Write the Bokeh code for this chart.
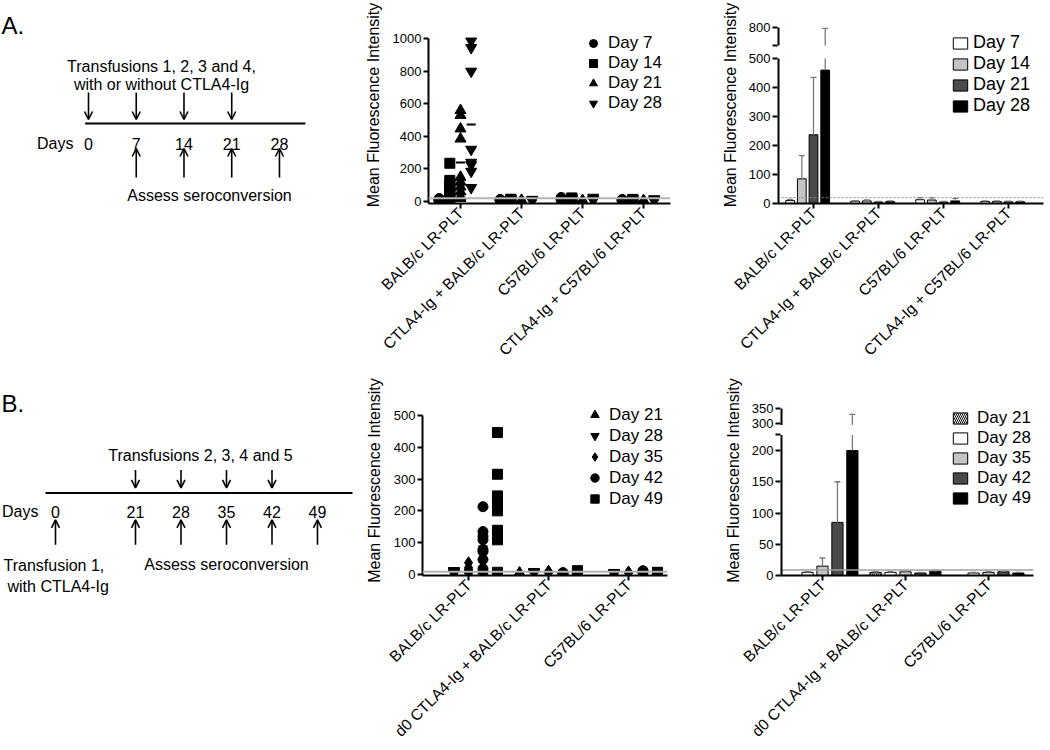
import math
import numpy as np
from bokeh.plotting import figure
from bokeh.layouts import row, column
from bokeh.models import (Range1d, FixedTicker, Span, Arrow, OpenHead, Legend,
                          LegendItem, Label, Title)
from bokeh.embed import file_html
from bokeh.resources import INLINE

FONT = "Liberation Sans"

# ============================ DATA ============================
# ---- Panel A: timeline (days) ----
a_transfusion_days = [0, 7, 14, 21]
a_assess_days = [7, 14, 21, 28]
a_axis_days = [0, 7, 14, 21, 28]

# ---- Panel A: MFI per mouse, per group ----
a_groups = ["BALB/c LR-PLT", "CTLA4-Ig + BALB/c LR-PLT", "C57BL/6 LR-PLT",
            "CTLA4-Ig + C57BL/6 LR-PLT"]
a_day_labels = ["Day 7", "Day 14", "Day 21", "Day 28"]
a_mfi_day7 = [[5, 8, 10, 12, 15, 18, 10, 6], [8, 10, 12, 6], [15, 20, 25, 10], [6, 8, 10, 12]]
a_mfi_day14 = [[235, 130, 112, 92, 72, 52, 32, 15], [10, 12, 14, 8], [12, 18, 22, 8], [7, 9, 11, 13]]
a_mfi_day21 = [[560, 530, 447, 385, 150, 120, 90, 60, 30, 20], [4, 6, 8, 3], [3, 5, 6, 4], [3, 4, 5, 6]]
a_mfi_day28 = [[985, 945, 800, 320, 240, 225, 185, 85], [6, 8, 12, 5], [10, 15, 25, 6], [5, 7, 9, 16]]

# ---- Panel A: bar means and SD ----
a_mean_day7 = [10, 8, 13, 7]
a_sd_day7 = [4, 2, 7, 2]
a_mean_day14 = [85, 9, 12, 7]
a_sd_day14 = [80, 3, 8, 2]
a_mean_day21 = [237, 5, 5, 6]
a_sd_day21 = [198, 2, 2, 2]
a_mean_day28 = [460, 7, 9, 6]
a_sd_day28 = [335, 2, 9, 2]
a_cutoff = 20

# ---- Panel B: timeline (days) ----
b_first_transfusion_day = 0
b_transfusion_days = [21, 28, 35, 42]
b_assess_days = [21, 28, 35, 42, 49]
b_axis_days = [0, 21, 28, 35, 42, 49]

# ---- Panel B: MFI per mouse, per group ----
b_groups = ["BALB/c LR-PLT", "d0 CTLA4-Ig + BALB/c LR-PLT", "C57BL/6 LR-PLT"]
b_day_labels = ["Day 21", "Day 28", "Day 35", "Day 42", "Day 49"]
b_mfi_day21 = [[], [3, 5, 4], []]
b_mfi_day28 = [[3, 5, 8, 10, 12], [5, 7, 9], [4, 6, 3]]
b_mfi_day35 = [[37, 22, 15, 10, 7, 4], [5, 8, 10], [5, 8, 6]]
b_mfi_day42 = [[213, 135, 120, 109, 78, 72, 47, 18, 8], [4, 6, 3], [6, 10, 12]]
b_mfi_day49 = [[446, 315, 247, 229, 200, 139, 109, 7], [8, 10, 12], [4, 6, 7]]

# ---- Panel B: bar means and SD ----
b_mean_day21 = [None, 5, None]
b_sd_day21 = [None, 1, None]
b_mean_day28 = [5, 5, 4]
b_sd_day28 = [1, 1, 1]
b_mean_day35 = [15, 6, 5]
b_sd_day35 = [13, 1, 1]
b_mean_day42 = [85, 4, 6]
b_sd_day42 = [65, 1, 1]
b_mean_day49 = [200, 7, 4]
b_sd_day49 = [130, 1, 1]
b_cutoff = 9

# ============================ HELPERS ============================
BLACK = "black"
ERR = "#7a7a7a"


def timeline_fig(w, h, bt, bb, y_top, y_bottom):
    p = figure(width=w, height=h, x_range=Range1d(0, w), y_range=Range1d(y_bottom, y_top),
               x_axis_location=None, y_axis_location=None, output_backend="svg",
               toolbar_location=None, min_border_left=0, min_border_right=0,
               min_border_top=bt, min_border_bottom=bb)
    p.grid.visible = False
    p.outline_line_color = None
    return p


def add_text(p, x, y, text, size="16px", align="center"):
    p.add_layout(Label(x=x, y=y, text=text, text_font=FONT, text_font_size=size,
                       text_align=align, text_baseline="alphabetic", text_color=BLACK))


def add_arrow(p, x, y0, y1):
    p.add_layout(Arrow(end=OpenHead(size=8, line_width=1.6, line_color=BLACK),
                       x_start=x, y_start=y0, x_end=x, y_end=y1,
                       line_width=1.6, line_color=BLACK))


def data_fig(w, h, bl, br, bt, bb, xr, yr):
    p = figure(width=w, height=h, x_range=Range1d(*xr), y_range=Range1d(*yr),
               output_backend="svg", toolbar_location=None,
               min_border_left=bl, min_border_right=br, min_border_top=bt,
               min_border_bottom=bb)
    p.grid.visible = False
    p.outline_line_color = None
    p.background_fill_color = "white"
    return p


def style_axes(p, groups, yticks, ylabels=None, label_standoff=8):
    xa = p.xaxis[0]
    xa.ticker = FixedTicker(ticks=list(range(len(groups))))
    xa.major_label_overrides = {i: g for i, g in enumerate(groups)}
    xa.major_label_orientation = math.pi / 4
    xa.major_label_text_font = FONT
    xa.major_label_text_font_size = "15.5px"
    xa.major_label_text_color = BLACK
    xa.major_label_standoff = 2
    xa.axis_line_width = 2
    xa.major_tick_line_width = 2
    xa.major_tick_out = 5
    xa.major_tick_in = 0
    xa.minor_tick_line_color = None

    ya = p.yaxis[0]
    ya.ticker = FixedTicker(ticks=yticks)
    if ylabels is not None:
        ya.major_label_overrides = dict(zip(yticks, ylabels))
    ya.major_label_text_font = FONT
    ya.major_label_text_font_size = "13px"
    ya.major_label_text_color = BLACK
    ya.major_label_standoff = 2
    ya.axis_line_width = 2
    ya.major_tick_line_width = 2
    ya.major_tick_out = 5
    ya.major_tick_in = 0
    ya.minor_tick_line_color = None
    ya.axis_label = "Mean Fluorescence Intensity"
    ya.axis_label_text_font = FONT
    ya.axis_label_text_font_size = "16px"
    ya.axis_label_text_font_style = "normal"
    ya.axis_label_text_color = BLACK
    ya.axis_label_standoff = label_standoff


def fold(v, brk):
    """Broken-axis scale: lower part linear, gap, compressed upper part."""
    if brk is None:
        return v
    lo_top, gap, up_bot, k = brk
    if v <= lo_top:
        return v
    if v >= up_bot:
        return round(lo_top + gap + (v - up_bot) * k, 6)
    return lo_top + gap * (v - lo_top) / (up_bot - lo_top)


def scatter_panel(p, values_by_day, day_labels, markers, sizes, step, legend_loc, glyph, standoff):
    items = []
    for i, (lab, vals, mk, sz) in enumerate(zip(day_labels, values_by_day, markers, sizes)):
        xs, ys, mx, my = [], [], [], []
        for g, v in enumerate(vals):
            if not v:
                continue
            xpos = g + (i - 2) * step
            xs += [xpos] * len(v)
            ys += list(v)
            mx.append(xpos)
            my.append(float(np.mean(v)))
        r = p.scatter(xs, ys, marker=mk, size=sz, fill_color=BLACK, line_color=BLACK)
        p.scatter(mx, my, marker="dash", size=9, line_width=2, line_color=BLACK)
        items.append(LegendItem(label=lab, renderers=[r]))
    leg = Legend(items=items, location=legend_loc, glyph_width=glyph, glyph_height=glyph,
                 spacing=0, padding=0, margin=0, label_standoff=standoff,
                 label_text_font=FONT, label_text_font_size="17px",
                 label_text_color=BLACK, background_fill_alpha=0,
                 border_line_color=None)
    p.add_layout(leg)


def bar_panel(p, means, sds, day_labels, fills, hatches, step, width, brk,
              legend_loc, standoff, font_size):
    items = []
    ex0, ey0, ex1, ey1, cx, cy = [], [], [], [], [], []
    for i, (lab, mu, sd, fc, ht) in enumerate(zip(day_labels, means, sds, fills, hatches)):
        xs, tops = [], []
        for g, (m, s) in enumerate(zip(mu, sd)):
            if m is None:
                continue
            xpos = g + (i - 2) * step
            xs.append(xpos)
            tops.append(fold(m, brk))
            top = m + s
            if brk is None or top <= brk[0]:
                ex0.append(xpos); ey0.append(fold(m, brk)); ex1.append(xpos); ey1.append(fold(top, brk))
            else:
                ex0.append(xpos); ey0.append(fold(m, brk)); ex1.append(xpos); ey1.append(brk[0])
                if top > brk[2]:
                    ex0.append(xpos); ey0.append(fold(brk[2], brk)); ex1.append(xpos); ey1.append(fold(top, brk))
            cx.append(xpos)
            cy.append(fold(top, brk))
        kw = {}
        if ht:
            kw = dict(hatch_pattern=ht, hatch_scale=4, hatch_weight=1, hatch_color=BLACK)
        r = p.vbar(x=xs, top=tops, bottom=0, width=width, fill_color=fc,
                   line_color=BLACK, line_width=1, **kw)
        items.append(LegendItem(label=lab, renderers=[r]))
    p.segment(x0=ex0, y0=ey0, x1=ex1, y1=ey1, line_color=ERR, line_width=1.3)
    p.scatter(cx, cy, marker="dash", size=6, line_color=ERR, line_width=1.3)
    leg = Legend(items=items, location=legend_loc, glyph_width=18, glyph_height=14,
                 spacing=0, padding=0, margin=0, label_standoff=standoff,
                 label_text_font=FONT, label_text_font_size=font_size,
                 label_text_color=BLACK, background_fill_alpha=0,
                 border_line_color=None)
    p.add_layout(leg)


def broken_axis_lines(p, x, pieces):
    for y0, y1 in pieces:
        p.add_layout(Arrow(end=None, x_start=x, y_start=y0, x_end=x, y_end=y1,
                           line_width=4, line_color=BLACK))


# Row geometry (page pixels): frames of one row share top and bottom
TOP_BT, TOP_BB, TOP_H = 6, 172, 375       # frame y 6..203
BOT_BT, BOT_BB, BOT_H = 10, 172, 373      # frame y 385..576 (row starts at 375)

# ============================ PANEL A ============================
tA = timeline_fig(360, TOP_H, TOP_BT, TOP_BB, 6, 203)


def xa(d):
    return 88 + 6.82 * d


add_text(tA, 1, 25, "A.", size="24px", align="left")
add_text(tA, 161, 66, "Transfusions 1, 2, 3 and 4,")
add_text(tA, 161, 84, "with or without CTLA4-Ig")
for d in a_transfusion_days:
    add_arrow(tA, xa(d), 92, 119)
tA.line([xa(-0.5), xa(31.8)], [123, 123], line_width=2, line_color=BLACK)
add_text(tA, 73, 143, "Days", align="right")
for d in a_axis_days:
    add_text(tA, xa(d), 143, str(d))
for d in a_assess_days:
    add_arrow(tA, xa(d), 177, 148)
add_text(tA, 209, 195, "Assess seroconversion")

# Scatter A: frame 428..670 x 6..203
sA = data_fig(330, TOP_H, 68, 20, TOP_BT, TOP_BB, (-0.5246, 3.442), (-12.3, 1198.5))
style_axes(sA, a_groups, [0, 200, 400, 600, 800, 1000], label_standoff=8)
sA.yaxis[0].bounds = (-12.3, 1000)
sA.add_layout(Span(location=a_cutoff, dimension="width", line_color="#b5b5b5", line_width=2))
scatter_panel(sA, [a_mfi_day7, a_mfi_day14, a_mfi_day21, a_mfi_day28], a_day_labels,
              ["circle", "square", "triangle", "inverted_triangle"], [10, 10, 11, 11],
              0.175, (155, 90), 20, 5)

# Bars A (broken axis: 0-500 | gap | 700-800 compressed): frame 777..1043
brkA = (500, 45, 700, 0.62)
bA = data_fig(360, TOP_H, 87, 7, TOP_BT, TOP_BB, (-0.554, 3.538), (0, 679.4))
yticksA = [0, 100, 200, 300, 400, 500, fold(700, brkA), fold(800, brkA)]
ylabelsA = ["0", "100", "200", "300", "400", "500", "", "800"]
style_axes(bA, a_groups, yticksA, ylabelsA, label_standoff=7)
bA.yaxis[0].axis_line_color = None
bA.add_layout(Span(location=a_cutoff, dimension="width", line_color="#8c8c8c",
                   line_width=1, line_dash="2 2"))
bar_panel(bA, [a_mean_day7, a_mean_day14, a_mean_day21, a_mean_day28],
          [a_sd_day7, a_sd_day14, a_sd_day21, a_sd_day28], a_day_labels,
          ["white", "#c4c4c4", "#4a4a4a", "black"], [None, None, None, None],
          0.18, 0.135, brkA, (174, 87), 4, "18px")
broken_axis_lines(bA, -0.554, [(0, 500), (fold(700, brkA), fold(800, brkA))])

# ============================ PANEL B ============================
tB = timeline_fig(354, BOT_H, BOT_BT, BOT_BB, 385, 576)


def xb(d):
    if d <= 21:
        return 55 + d * 80 / 21
    return 135 + (d - 21) * 6.5


add_text(tB, 1, 403, "B.", size="24px", align="left")
add_text(tB, 200, 455, "Transfusions 2, 3, 4 and 5")
for d in b_transfusion_days:
    add_arrow(tB, xb(d), 470, 488)
tB.line([45, 352], [493, 493], line_width=2, line_color=BLACK)
add_text(tB, 38, 512, "Days", align="right")
for d in b_axis_days:
    add_text(tB, xb(d), 512, str(d))
for d in [b_first_transfusion_day] + b_assess_days:
    add_arrow(tB, xb(d), 545, 520)
add_text(tB, 3, 566, "Transfusion 1,", align="left")
tB.add_layout(Title(text="with CTLA4-Ig", align="left", offset=7, standoff=0,
                    text_font=FONT, text_font_size="16px", text_font_style="normal",
                    text_color=BLACK), "below")
add_text(tB, 226, 565, "Assess seroconversion")

# Scatter B: frame 422..667 x 385..576
sB = data_fig(339, BOT_H, 68, 26, BOT_BT, BOT_BB, (-0.575, 2.4875), (-3.1, 593.75))
style_axes(sB, b_groups, [0, 100, 200, 300, 400, 500], label_standoff=8)
sB.yaxis[0].bounds = (-3.1, 500)
sB.add_layout(Span(location=b_cutoff, dimension="width", line_color="#b5b5b5", line_width=2))
scatter_panel(sB, [b_mfi_day21, b_mfi_day28, b_mfi_day35, b_mfi_day42, b_mfi_day49], b_day_labels,
              ["triangle", "inverted_triangle", "diamond", "circle", "square"], [11, 11, 12, 10, 10],
              0.181, (162, 66), 21, 4)

# Bars B (broken axis: 0-225 | gap | 295-350 compressed): frame 780..1033
brkB = (225, 16, 295, 0.48)
bB = data_fig(355, BOT_H, 87, 15, BOT_BT, BOT_BB, (-0.506, 2.542), (0, 304.0))
yticksB = [0, 50, 100, 150, 200, 225, fold(300, brkB), fold(350, brkB)]
ylabelsB = ["0", "50", "100", "150", "200", "", "300", "350"]
style_axes(bB, b_groups, yticksB, ylabelsB, label_standoff=7)
bB.yaxis[0].axis_line_color = None
bB.add_layout(Span(location=b_cutoff, dimension="width", line_color="#a0a0a0", line_width=1.5))
bar_panel(bB, [b_mean_day21, b_mean_day28, b_mean_day35, b_mean_day42, b_mean_day49],
          [b_sd_day21, b_sd_day28, b_sd_day35, b_sd_day42, b_sd_day49], b_day_labels,
          ["white", "white", "#c4c4c4", "#4a4a4a", "black"],
          ["left_diagonal_line", None, None, None, None],
          0.18, 0.135, brkB, (171, 67), 8, "17px")
broken_axis_lines(bB, -0.506, [(0, 225), (fold(295, brkB), fold(350, brkB))])

layout = column(row(tA, sA, bA), row(tB, sB, bB))
open("out.html", "w").write(file_html(layout, INLINE))
